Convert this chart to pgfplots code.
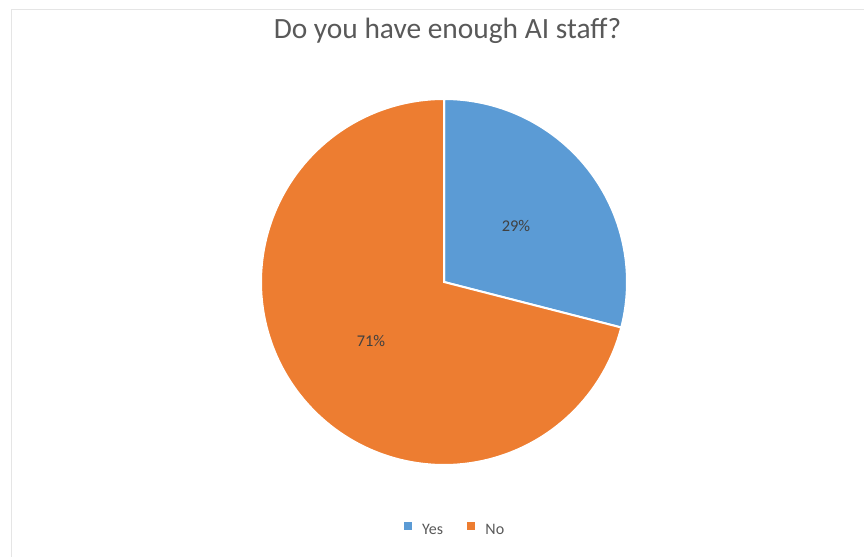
\documentclass[border=0pt]{standalone}
\usepackage{pgfplots}
\usepackage{pgfplotstable}
\usepackage{fontspec}
\setmainfont{Carlito}
\pgfplotsset{compat=1.18}
\definecolor{yesblue}{HTML}{5B9BD5}
\definecolor{noorange}{HTML}{ED7D31}
\definecolor{titlegray}{HTML}{595959}
\definecolor{labelgray}{HTML}{404040}
\pgfplotstableread{
answer share
Yes 29
No 71
}\piedata
\pgfplotstablegetelem{0}{share}\of\piedata \let\yesval\pgfplotsretval
\pgfplotstablegetelem{1}{share}\of\piedata \let\noval\pgfplotsretval
\pgfmathsetmacro{\yesstart}{90-3.6*\yesval}
\pgfmathsetmacro{\noend}{90+3.6*\noval}
\begin{document}
\begin{tikzpicture}
\begin{axis}[
  scale only axis, width=432bp, height=278.5bp,
  xmin=0, xmax=864, ymin=0, ymax=557,
  hide axis, clip=false,
  legend style={at={(axis cs:454,27)}, anchor=center, draw=none, fill=none,
    legend columns=2, font=\fontsize{8bp}{9.6bp}\selectfont\color{titlegray},
    nodes={inner sep=0pt},
    /tikz/every odd column/.append style={column sep=5bp},
    /tikz/every even column/.append style={column sep=12bp}},
  legend image code/.code={\fill[#1, line width=0pt, draw=none] (0bp,0.4bp) rectangle (4.2bp,4.6bp);},
  legend image post style={scale=1},
]
% frame
\draw[gray!20, line width=0.6bp] (axis cs:11.5,0) -- (axis cs:11.5,547.5) -- (axis cs:864,547.5);
% slices
\addplot[fill=yesblue, draw=white, line width=1bp, domain=\yesstart:90, samples=90, variable=\t]
  ({444+183*cos(t)},{275+183*sin(t)}) -- (axis cs:444,275) -- cycle;
\addlegendentry{Yes}
\addplot[fill=noorange, draw=white, line width=1bp, domain=90:\noend, samples=180, variable=\t]
  ({444+183*cos(t)},{275+183*sin(t)}) -- (axis cs:444,275) -- cycle;
\addlegendentry{No}
% labels
\node[font=\fontsize{8.2bp}{9.6bp}\selectfont, text=labelgray] at (axis cs:516,331) {\yesval\%};
\node[font=\fontsize{8.2bp}{9.6bp}\selectfont, text=labelgray] at (axis cs:371,216) {\noval\%};
% title
\node[anchor=base, inner sep=0pt, font=\fontsize{14.7bp}{17bp}\selectfont, text=titlegray] at (axis cs:447.5,518) {Do you have enough AI staff?};
\end{axis}
\pgfresetboundingbox
\path (0,0) rectangle (432bp,278.5bp);
\end{tikzpicture}
\end{document}
